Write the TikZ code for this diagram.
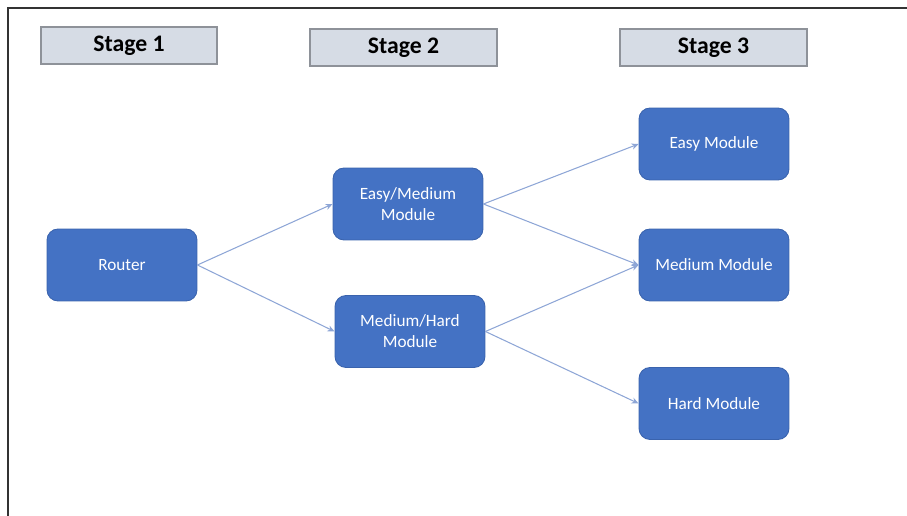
\documentclass[tikz,border=0pt]{standalone}
\usepackage{fontspec}
\setmainfont{Carlito}
\usetikzlibrary{arrows.meta, positioning}
\definecolor{modblue}{HTML}{4472C4}
\definecolor{modedge}{HTML}{3A63AD}
\definecolor{stagefill}{HTML}{D6DCE5}
\definecolor{stageedge}{HTML}{8E9299}
\definecolor{linkblue}{HTML}{8EA6D6}

\begin{document}
\begin{tikzpicture}[x=0.02cm, y=-0.02cm,
    stagebox/.style={rectangle, draw=stageedge, fill=stagefill, line width=0.6pt,
        minimum width=3.74cm, minimum height=0.74cm, font=\fontsize{13.5}{15}\selectfont\bfseries},
    modbox/.style={rectangle, rounded corners=0.22cm, draw=modedge, fill=modblue, line width=0.5pt,
        minimum width=3cm, minimum height=1.44cm, text=white, align=center,
        font=\fontsize{9.8}{12}\selectfont},
    link/.style={draw=linkblue, line width=0.6pt, -{Stealth[length=4pt, width=3.5pt]}}]
    % frame
    \useasboundingbox (0,0) rectangle (907,516);
    \draw[line width=0.9pt, black!80] (8,516) -- (8,8) -- (907,8);

    % stages
    \node at (129, 45.5) [stagebox, minimum width=3.52cm] (st1) {Stage 1};
    \node at (403.5, 47.5) [stagebox] (st2) {Stage 2};
    \node at (713.5, 47.5) [stagebox] (st3) {Stage 3};

    % modules
    \node at (122, 265) [modbox] (router) {Router};
    \node at (408, 204) [modbox] (em) {Easy/Medium\\Module};
    \node at (410, 331.5) [modbox] (mh) {Medium/Hard\\Module};
    \node at (714, 144) [modbox] (easy) {Easy Module};
    \node at (714, 265) [modbox] (medium) {Medium Module};
    \node at (714, 403.5) [modbox] (hard) {Hard Module};

    \draw[link] (router.east) -- (em.west);
    \draw[link] (router.east) -- (mh.west);

    \draw[link] (em.east) -- (easy.west);
    \draw[link] (em.east) -- (medium.west);

    \draw[link] (mh.east) -- (medium.west);
    \draw[link] (mh.east) -- (hard.west);
\end{tikzpicture}
\end{document}
